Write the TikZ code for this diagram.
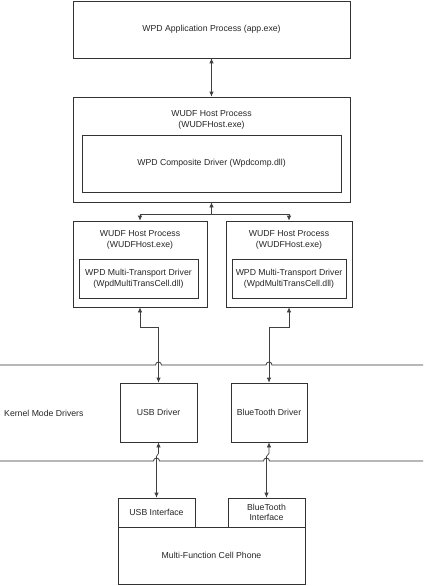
\documentclass[tikz,border=0pt]{standalone}
\usepackage{fontspec}
\setmainfont{Liberation Sans}
\usetikzlibrary{arrows.meta}
\begin{document}
\begin{tikzpicture}[x=1pt,y=-1pt,
  txt/.style={font=\fontsize{8.7}{10.5}\selectfont,text=black!85},
  box/.style={draw=black!80,line width=0.7pt,inner sep=0pt,align=center,txt},
  lbl/.style={inner sep=0pt,align=center,txt},
  both/.style={draw=black!75,line width=0.7pt,{Latex[length=5pt,width=4.5pt]}-{Latex[length=5pt,width=4.5pt]}},
  one/.style={draw=black!75,line width=0.7pt,-{Latex[length=5pt,width=4.5pt]}},
  sep/.style={draw=black!80,line width=0.8pt}
]
\useasboundingbox (0,0) rectangle (423,586);
% boxes
\node[box,minimum width=277pt,minimum height=57pt] (app) at (211.5,29.5) {WPD Application Process (app.exe)};
\node[box,minimum width=277pt,minimum height=105pt] (host1) at (211.5,149.5) {};
\node[lbl] (host1l) at (211.5,120) {WUDF Host Process\\(WUDFHost.exe)};
\node[box,minimum width=259pt,minimum height=57pt] (comp) at (211.5,163.5) {WPD Composite Driver (Wpdcomp.dll)};

\node[box,minimum width=134pt,minimum height=86pt] (hostL) at (140,264) {};
\node[lbl] (hostLl) at (140,240) {WUDF Host Process\\(WUDFHost.exe)};
\node[box,minimum width=119pt,minimum height=39pt] (mtL) at (138.5,278.5) {WPD Multi-Transport Driver\\(WpdMultiTransCell.dll)};

\node[box,minimum width=126pt,minimum height=86pt] (hostR) at (289,264) {};
\node[lbl] (hostRl) at (289,240) {WUDF Host Process\\(WUDFHost.exe)};
\node[box,minimum width=114pt,minimum height=39pt] (mtR) at (289,278.5) {WPD Multi-Transport Driver\\(WpdMultiTransCell.dll)};

\node[box,minimum width=77pt,minimum height=59pt] (usb) at (158.5,412.5) {USB Driver};
\node[box,minimum width=76pt,minimum height=59pt] (bt) at (269,412.5) {BlueTooth Driver};
\node[lbl,anchor=west] (kmd) at (4,413) {Kernel Mode Drivers};

\node[box,minimum width=77pt,minimum height=29pt] (usbif) at (156.5,512.5) {USB Interface};
\node[box,minimum width=77pt,minimum height=29pt] (btif) at (266.5,512.5) {BlueTooth\\Interface};
\node[box,minimum width=187pt,minimum height=57pt] (phone) at (211.5,555.5) {Multi-Function Cell Phone};

% separators with hops
\draw[sep] (0,365) -- (155.5,365) arc[start angle=180,end angle=0,radius=3pt] -- (266,365) arc[start angle=180,end angle=0,radius=3pt] -- (423,365);
\draw[sep] (0,461) -- (153.5,461) arc[start angle=180,end angle=0,radius=3pt] -- (263.5,461) arc[start angle=180,end angle=0,radius=3pt] -- (423,461);

% connectors
\draw[both] (app.south) -- (host1.north);
\coordinate (br) at (211.5,214);
\draw[one] (br) -- (host1.south);
\draw[one] (br) -| (hostL.north);
\draw[one] (br) -| (hostR.north);
\draw[both] (hostL.south) -- ++(0,20) -| (usb.north);
\draw[both] (hostR.south) -- ++(0,20) -| (bt.north);
\draw[both] (usb.south) -- ++(0,11) -- ++(-2,3) -- (usbif.north);
\draw[both] (bt.south) -- ++(0,11) -- ++(-2.5,3) -- (btif.north);
\end{tikzpicture}
\end{document}
